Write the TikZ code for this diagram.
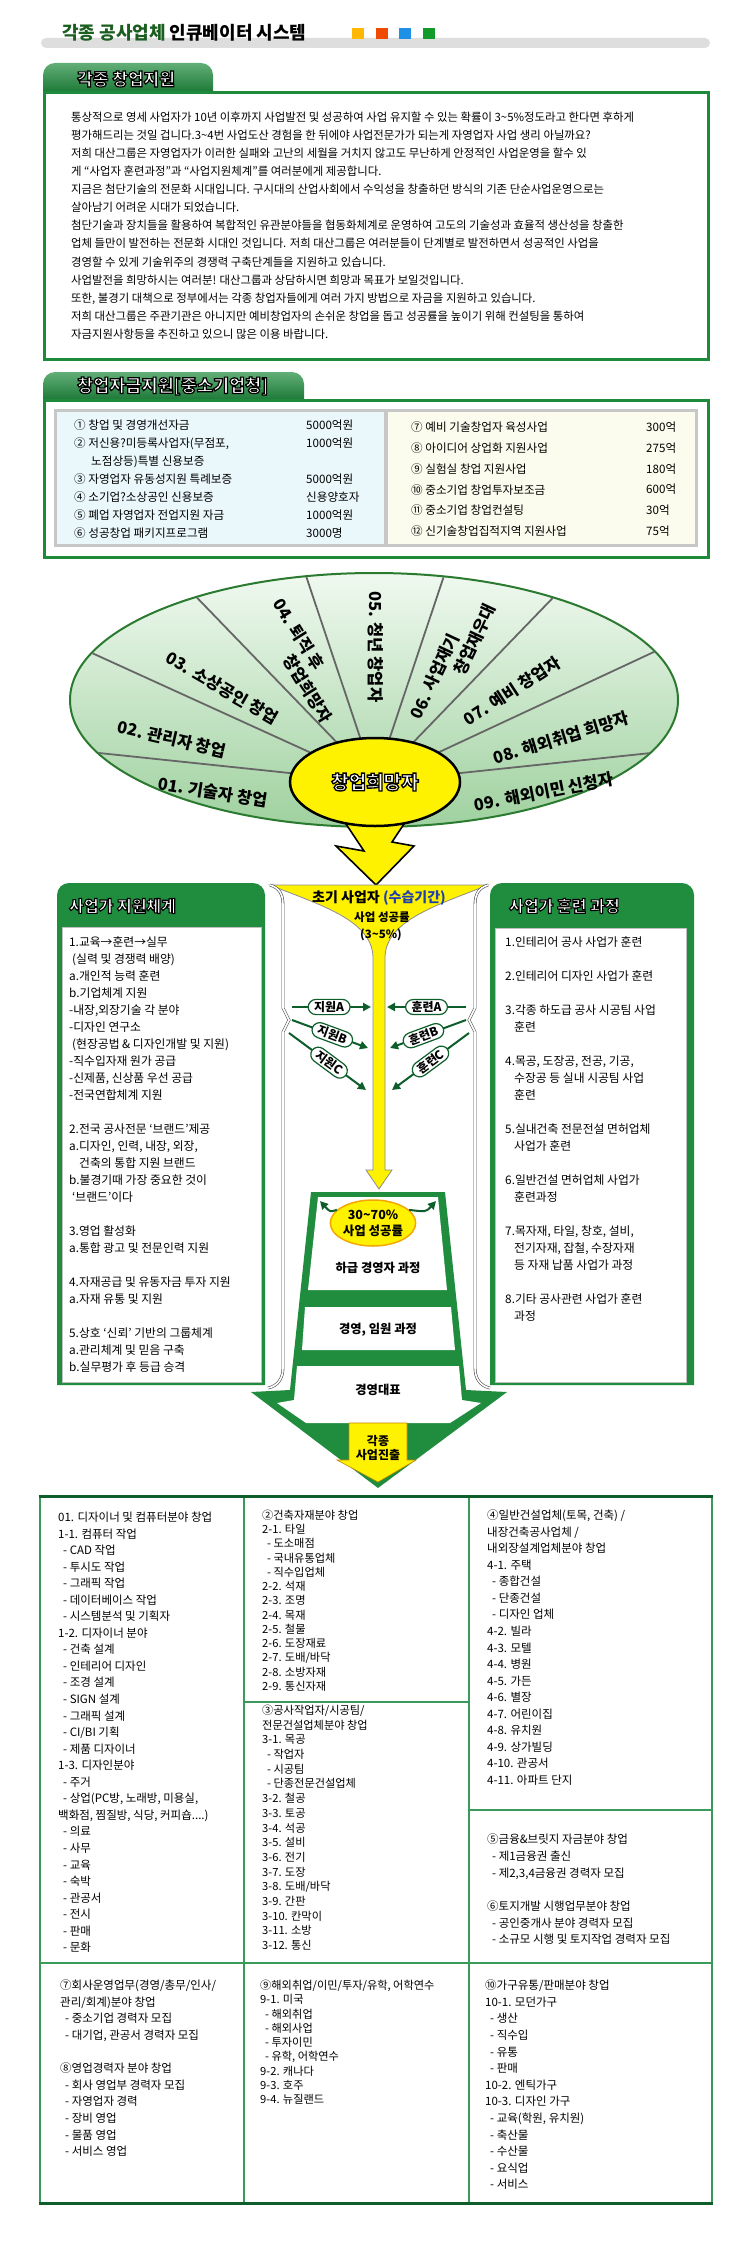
\documentclass[tikz,border=0pt]{standalone}
\usepackage{fontspec}
\setmainfont{Noto Sans CJK KR}
\newfontfamily\outlinefont{Noto Sans CJK KR}[FakeBold=7,BoldFeatures={FakeBold=7}]
\usetikzlibrary{shapes.geometric,arrows.meta,positioning}

\definecolor{titleGreen}{HTML}{1B5E20}
\definecolor{barGray}{HTML}{DEDEDE}
\definecolor{sqYellow}{HTML}{FFB700}
\definecolor{sqRed}{HTML}{F04A00}
\definecolor{sqBlue}{HTML}{1E90E6}
\definecolor{sqGreen}{HTML}{129A2A}
\definecolor{tabGreen}{HTML}{1F8C3E}
\definecolor{boxGreen}{HTML}{1E8A3C}
\definecolor{darkGreen}{HTML}{0D5E2A}
\definecolor{gridGreen}{HTML}{3A9A5A}
\definecolor{tableCyan}{HTML}{EAF8FB}
\definecolor{tableCream}{HTML}{FCFCEE}
\definecolor{fanTop}{HTML}{F0F9F0}
\definecolor{fanBottom}{HTML}{9FD19F}
\definecolor{fanEdge}{HTML}{2A7A30}
\definecolor{hopeYellow}{HTML}{FFF200}
\definecolor{stageBlue}{HTML}{1F3FB0}
\definecolor{rateOrange}{HTML}{F2A800}

% white letters with a black rim
\newcommand\outlined[1]{{\outlinefont\bfseries\color{white}\special{pdf:literal direct 0 G}#1}}
\newcommand\gridsub{\hspace*{5pt}-\ }

\begin{document}
\begin{tikzpicture}[x=1pt,y=-1pt,
    tab/.style={top color=tabGreen!70!white, bottom color=tabGreen!85!black},
    frame/.style={draw=boxGreen, line width=3pt},
    para/.style={anchor=north west, inner sep=0pt, align=left},
    fanlabel/.style={font=\bfseries\fontsize{16.5}{21}\selectfont, inner sep=0pt, align=left},
    spoke/.style={draw=black!60, line width=1.8pt},
    pill/.style={draw=darkGreen, line width=1.2pt, fill=white, rounded corners=8pt, inner xsep=6pt, inner ysep=2pt, font=\bfseries\fontsize{12}{13}\selectfont, sloped},
    flow/.style={draw=darkGreen, line width=2pt, -{Triangle[length=8pt,width=8pt]}},
    brace/.style={draw=black!70, double=white, double distance=1.6pt, line width=0.6pt},
    stairtext/.style={font=\bfseries\fontsize{12.3}{14}\selectfont},
    cell/.style={anchor=north west, inner sep=0pt, align=left, font=\fontsize{11.5}{16.55}\selectfont}
]
\useasboundingbox (0,0) rectangle (750,2242);
\fill[white] (0,0) rectangle (750,2242);

% title bar
\fill[barGray, rounded corners=5pt] (41,38) rectangle (710,48);
\node[anchor=west, inner sep=0pt, font=\bfseries\fontsize{18}{20}\selectfont] (title) at (62,33) {{\color{titleGreen}각종 공사업체} 인큐베이터 시스템};
\fill[sqYellow] (352,28) rectangle (364,39);
\fill[sqRed] (376,28) rectangle (388,39);
\fill[sqBlue] (399,28) rectangle (411,39);
\fill[sqGreen] (423,28) rectangle (435,39);

% 각종 창업지원
\shade[tab] (43,93) [rounded corners=12pt] -- (43,63) -- (213,63) [sharp corners] -- (213,93) -- cycle;
\draw[frame] (44.5,92.5) rectangle (708.5,359.5);
\node[anchor=west, inner sep=0pt, font=\fontsize{17}{19}\selectfont] (tabSupport) at (77,79) {\outlined{각종 창업지원}};
\node[para, font=\fontsize{11.4}{18.08}\selectfont] (intro) at (71,111.7) {통상적으로 영세 사업자가 10년 이후까지 사업발전 및 성공하여 사업 유지할 수 있는 확률이 3\textasciitilde5\%정도라고 한다면 후하게\\
평가해드리는 것일 겁니다.3\textasciitilde4번 사업도산 경험을 한 뒤에야 사업전문가가 되는게 자영업자 사업 생리 아닐까요?\\
저희 대산그룹은 자영업자가 이러한 실패와 고난의 세월을 거치지 않고도 무난하게 안정적인 사업운영을 할수 있\\
게 “사업자 훈련과정”과 “사업지원체계”를 여러분에게 제공합니다.\\
지금은 첨단기술의 전문화 시대입니다. 구시대의 산업사회에서 수익성을 창출하던 방식의 기존 단순사업운영으로는\\
살아남기 어려운 시대가 되었습니다.\\
첨단기술과 장치들을 활용하여 복합적인 유관분야들을 협동화체계로 운영하여 고도의 기술성과 효율적 생산성을 창출한\\
업체 들만이 발전하는 전문화 시대인 것입니다. 저희 대산그룹은 여러분들이 단계별로 발전하면서 성공적인 사업을\\
경영할 수 있게 기술위주의 경쟁력 구축단계들을 지원하고 있습니다.\\
사업발전을 희망하시는 여러분! 대산그룹과 상담하시면 희망과 목표가 보일것입니다.\\
또한, 불경기 대책으로 정부에서는 각종 창업자들에게 여러 가지 방법으로 자금을 지원하고 있습니다.\\
저희 대산그룹은 주관기관은 아니지만 예비창업자의 손쉬운 창업을 돕고 성공률을 높이기 위해 컨설팅을 통하여\\
자금지원사항등을 추진하고 있으니 많은 이용 바랍니다.};

% 창업자금지원
\shade[tab] (43,401) [rounded corners=12pt] -- (43,372) -- (304,372) [sharp corners] -- (304,401) -- cycle;
\draw[frame] (44.5,400.5) rectangle (708.5,557);
\node[anchor=west, inner sep=0pt, font=\fontsize{17.5}{19}\selectfont] (tabFund) at (77,386) {\outlined{창업자금지원[중소기업청]}};
\fill[tableCyan] (55,410) rectangle (386,545);
\fill[tableCream] (386,410) rectangle (696,545);
\draw[black!22, line width=3pt] (55,410) rectangle (696,545);
\draw[black!22, line width=4pt] (386,410) -- (386,545);
\node[para, font=\fontsize{11.6}{18}\selectfont] (fundLeft) at (74,419.7) {① 창업 및 경영개선자금\\
② 저신용?미등록사업자(무점포,\\
\hspace*{17pt}노점상등)특별 신용보증\\
③ 자영업자 유동성지원 특례보증\\
④ 소기업?소상공인 신용보증\\
⑤ 폐업 자영업자 전업지원 자금\\
⑥ 성공창업 패키지프로그램};
\node[para, font=\fontsize{11.6}{18}\selectfont] (fundLeftSum) at (306,419.7) {5000억원\\1000억원\\[18pt]5000억원\\신용양호자\\1000억원\\3000명};
\node[para, font=\fontsize{11.6}{20.8}\selectfont] (fundRight) at (411,421.7) {⑦ 예비 기술창업자 육성사업\\
⑧ 아이디어 상업화 지원사업\\
⑨ 실험실 창업 지원사업\\
⑩ 중소기업 창업투자보조금\\
⑪ 중소기업 창업컨설팅\\
⑫ 신기술창업집적지역 지원사업};
\node[para, font=\fontsize{11.6}{20.8}\selectfont] (fundRightSum) at (646,421.7) {300억\\275억\\180억\\600억\\30억\\75억};

% fan of founder groups
\coordinate (hub) at (375,782);
\shadedraw[top color=fanTop, bottom color=fanBottom, draw=fanEdge, line width=2pt] (374,700) ellipse [x radius=304, y radius=127];
\begin{scope}
  \clip (374,700) ellipse [x radius=303, y radius=126];
  \foreach \a in {174,155.5,134,108.5,71.5,46,25,6}
    \draw[spoke] (hub) -- ++(-\a:420);
\end{scope}
\node[fanlabel, rotate=-9] (sec01) at (213,792) {01. 기술자 창업};
\node[fanlabel, rotate=-13] (sec02) at (172,739) {02. 관리자 창업};
\node[fanlabel, rotate=-30] (sec03) at (222,688) {03. 소상공인 창업};
\node[fanlabel, rotate=-58] (sec04) at (302.5,660.5) {04. 퇴직 후\\\hspace*{53pt}창업희망자};
\node[fanlabel, rotate=-90] (sec05) at (376,647) {05. 청년 창업자};
\node[fanlabel, rotate=65] (sec06) at (453,661.5) {06. 사업재기\\\hspace*{58pt}창업재우대};
\node[fanlabel, rotate=33] (sec07) at (512,691) {07. 예비 창업자};
\node[fanlabel, rotate=17] (sec08) at (561,738) {08. 해외취업 희망자};
\node[fanlabel, rotate=11] (sec09) at (544,792) {09. 해외이민 신청자};

% lightning arrow down
\draw[fill=hopeYellow, line width=1.6pt, line join=miter] (340,815) -- (364,851) -- (336,846) -- (376,885) -- (414,846) -- (392,842) -- (410,815) -- cycle;
\node[ellipse, draw=black, line width=2.5pt, fill=hopeYellow, minimum width=170pt, minimum height=88pt, inner sep=0pt, font=\fontsize{19}{21}\selectfont] (hope) at (hub) {\outlined{창업희망자}};

% 사업가 지원체계
\fill[tabGreen] (57,1385) [rounded corners=12pt] -- (57,883) -- (265,883) [sharp corners] -- (265,1385) -- cycle;
\draw[fill=white, draw=black!25] (62,927) rectangle (261,1382);
\node[anchor=west, inner sep=0pt, font=\fontsize{16}{18}\selectfont] (supportHead) at (69,906) {\outlined{사업가 지원체계}};
\node[para, font=\fontsize{11.8}{17}\selectfont] (supportList) at (69,936.6) {1.교육→훈련→실무\\
\hspace*{3pt}(실력 및 경쟁력 배양)\\
a.개인적 능력 훈련\\
b.기업체계 지원\\
-내장,외장기술 각 분야\\
-디자인 연구소\\
\hspace*{3pt}(현장공법 \& 디자인개발 및 지원)\\
-직수입자재 원가 공급\\
-신제품, 신상품 우선 공급\\
-전국연합체계 지원\\[17pt]
2.전국 공사전문 ‘브랜드’제공\\
a.디자인, 인력, 내장, 외장,\\
\hspace*{10pt}건축의 통합 지원 브랜드\\
b.불경기때 가장 중요한 것이\\
\hspace*{3pt}‘브랜드’이다\\[17pt]
3.영업 활성화\\
a.통합 광고 및 전문인력 지원\\[17pt]
4.자재공급 및 유동자금 투자 지원\\
a.자재 유통 및 지원\\[17pt]
5.상호 ‘신뢰’ 기반의 그룹체계\\
a.관리체계 및 믿음 구축\\
b.실무평가 후 등급 승격};

% 사업가 훈련 과정
\fill[tabGreen] (490,1385) [rounded corners=12pt] -- (490,883) -- (694,883) [sharp corners] -- (694,1385) -- cycle;
\draw[fill=white, draw=black!25] (495,928) rectangle (686,1382);
\node[anchor=west, inner sep=0pt, font=\fontsize{16}{18}\selectfont] (trainHead) at (509,906) {\outlined{사업가 훈련 과정}};
\node[para, font=\fontsize{11.8}{17}\selectfont] (trainList) at (505,936.6) {1.인테리어 공사 사업가 훈련\\[17pt]
2.인테리어 디자인 사업가 훈련\\[17pt]
3.각종 하도급 공사 시공팀 사업\\
\hspace*{9pt}훈련\\[17pt]
4.목공, 도장공, 전공, 기공,\\
\hspace*{9pt}수장공 등 실내 시공팀 사업\\
\hspace*{9pt}훈련\\[17pt]
5.실내건축 전문전설 면허업체\\
\hspace*{9pt}사업가 훈련\\[17pt]
6.일반건설 면허업체 사업가\\
\hspace*{9pt}훈련과정\\[17pt]
7.목자재, 타일, 창호, 설비,\\
\hspace*{9pt}전기자재, 잡철, 수장자재\\
\hspace*{9pt}등 자재 납품 사업가 과정\\[17pt]
8.기타 공사관련 사업가 훈련\\
\hspace*{9pt}과정};

% funnel of early founders
\draw[fill=hopeYellow, draw=black!45, line width=0.8pt] (270,885) .. controls (320,905) and (372,920) .. (373,957) -- (373,1170) -- (366,1170) -- (379,1189) -- (392,1170) -- (385,1170) -- (385,957) .. controls (386,920) and (438,905) .. (488,885) -- cycle;
\node[font=\bfseries\fontsize{14}{16}\selectfont] (earlyStage) at (379,898) {초기 사업자 \textcolor{stageBlue}{(수습기간)}};
\node[font=\bfseries\fontsize{11.5}{13}\selectfont] (earlyRate) at (382,917) {사업 성공률};
\node[font=\bfseries\fontsize{11.5}{13}\selectfont] (earlyPct) at (381,935) {(3\textasciitilde5\%)};

% side braces
\draw[brace] (270,885) .. controls (280,888) and (283,895) .. (283,905) -- (283,1008) -- (289,1020) -- (283,1032) -- (283,1368) .. controls (283,1378) and (278,1386) .. (268,1388);
\draw[brace] (488,885) .. controls (478,888) and (475,895) .. (475,905) -- (475,1008) -- (469,1020) -- (475,1032) -- (475,1368) .. controls (475,1378) and (480,1386) .. (490,1388);

% support and training arrows
\coordinate (jA0) at (292,1007); \coordinate (jA1) at (371,1007);
\coordinate (jB0) at (292,1020); \coordinate (jB1) at (368,1048);
\coordinate (jC0) at (289,1033); \coordinate (jC1) at (366,1090);
\coordinate (hA0) at (466,1007); \coordinate (hA1) at (387,1007);
\coordinate (hB0) at (466,1020); \coordinate (hB1) at (390,1048);
\coordinate (hC0) at (469,1033); \coordinate (hC1) at (392,1090);
\draw[flow] (jA0) -- (jA1) node[pill, pos=0.47] (jiwonA) {지원A};
\draw[flow] (jB0) -- (jB1) node[pill, pos=0.53] (jiwonB) {지원B};
\draw[flow] (jC0) -- (jC1) node[pill, pos=0.52] (jiwonC) {지원C};
\draw[flow] (hA0) -- (hA1) node[pill, pos=0.5] (hunA) {훈련A};
\draw[flow] (hB0) -- (hB1) node[pill, pos=0.56] (hunB) {훈련B};
\draw[flow] (hC0) -- (hC1) node[pill, pos=0.5] (hunC) {훈련C};

% management steps arrow
\fill[tabGreen] (311,1192) -- (445,1192) -- (466,1390) -- (507,1392) -- (378,1488) -- (251,1392) -- (290,1390) -- cycle;
\fill[white] (318,1197) -- (438,1197) -- (447,1290) -- (308,1290) -- cycle;
\fill[white] (305,1307) -- (451,1307) -- (455,1350) -- (302,1350) -- cycle;
\fill[white] (297,1366) -- (459,1366) -- (462,1400) -- (481,1403) -- (450,1423) -- (306,1423) -- (277,1403) -- (294,1400) -- cycle;
\draw[fill=hopeYellow, draw=rateOrange!80!black, line width=0.6pt] (349,1423) -- (407,1423) -- (407,1460) -- (416,1460) -- (378,1482) -- (337,1460) -- (349,1460) -- cycle;
\node[font=\bfseries\fontsize{12}{13.5}\selectfont, align=center] (advance) at (378,1448) {각종\\사업진출};
\node[ellipse, draw=rateOrange, line width=1.5pt, fill=hopeYellow, minimum width=76pt, minimum height=46pt, inner sep=0pt, align=center, font=\bfseries\fontsize{12.5}{16}\selectfont] (succ) at (373,1223) {30\textasciitilde70\%\\사업 성공률};
\coordinate (upL) at (320,1201);
\coordinate (upR) at (436,1201);
\draw[flow] (succ.160) .. controls (330,1212) .. (upL);
\draw[flow] (succ.20) .. controls (426,1212) .. (upR);
\node[stairtext] (lowerMgr) at (378,1268) {하급 경영자 과정};
\node[stairtext] (execMgr) at (378,1330) {경영, 임원 과정};
\node[stairtext] (ceoMgr) at (378,1390) {경영대표};

% fields table
\draw[gridGreen, line width=1.3pt] (40,1496) rectangle (712,2203);
\draw[gridGreen, line width=1.3pt] (244,1496) -- (244,2203) (469,1496) -- (469,2203) (40,1963) -- (712,1963) (244,1702) -- (469,1702) (469,1810) -- (712,1810);
\draw[darkGreen, line width=3pt] (38.7,1496) -- (713.3,1496) (38.7,2203) -- (713.3,2203);

\node[cell] (cellDesign) at (58,1511.7) {01. 디자이너 및 컴퓨터분야 창업\\
1-1. 컴퓨터 작업\\
\gridsub CAD 작업\\
\gridsub 투시도 작업\\
\gridsub 그래픽 작업\\
\gridsub 데이터베이스 작업\\
\gridsub 시스템분석 및 기획자\\
1-2. 디자이너 분야\\
\gridsub 건축 설계\\
\gridsub 인테리어 디자인\\
\gridsub 조경 설계\\
\gridsub SIGN 설계\\
\gridsub 그래픽 설계\\
\gridsub CI/BI 기획\\
\gridsub 제품 디자이너\\
1-3. 디자인분야\\
\gridsub 주거\\
\gridsub 상업(PC방, 노래방, 미용실,\\
백화점, 찜질방, 식당, 커피숍....)\\
\gridsub 의료\\
\gridsub 사무\\
\gridsub 교육\\
\gridsub 숙박\\
\gridsub 관공서\\
\gridsub 전시\\
\gridsub 판매\\
\gridsub 문화};

\node[cell, font=\fontsize{11.2}{14.25}\selectfont] (cellMaterial) at (262,1509.8) {②건축자재분야 창업\\
2-1. 타일\\
\gridsub 도소매점\\
\gridsub 국내유통업체\\
\gridsub 직수입업체\\
2-2. 석재\\
2-3. 조명\\
2-4. 목재\\
2-5. 철물\\
2-6. 도장재료\\
2-7. 도배/바닥\\
2-8. 소방자재\\
2-9. 통신자재};

\node[cell, font=\fontsize{11.2}{14.7}\selectfont] (cellCrew) at (262,1704.8) {③공사작업자/시공팀/\\
전문건설업체분야 창업\\
3-1. 목공\\
\gridsub 작업자\\
\gridsub 시공팀\\
\gridsub 단종전문건설업체\\
3-2. 철공\\
3-3. 토공\\
3-4. 석공\\
3-5. 설비\\
3-6. 전기\\
3-7. 도장\\
3-8. 도배/바닥\\
3-9. 간판\\
3-10. 칸막이\\
3-11. 소방\\
3-12. 통신};

\node[cell] (cellBuilder) at (487,1509.7) {④일반건설업체(토목, 건축) /\\
내장건축공사업체 /\\
내외장설계업체분야 창업\\
4-1. 주택\\
\gridsub 종합건설\\
\gridsub 단종건설\\
\gridsub 디자인 업체\\
4-2. 빌라\\
4-3. 모텔\\
4-4. 병원\\
4-5. 가든\\
4-6. 별장\\
4-7. 어린이집\\
4-8. 유치원\\
4-9. 상가빌딩\\
4-10. 관공서\\
4-11. 아파트 단지};

\node[cell, font=\fontsize{11.5}{16.7}\selectfont] (cellFinance) at (487,1833.7) {⑤금융\&브릿지 자금분야 창업\\
\gridsub 제1금융권 출신\\
\gridsub 제2,3,4금융권 경력자 모집\\[16.7pt]
⑥토지개발 시행업무분야 창업\\
\gridsub 공인중개사 분야 경력자 모집\\
\gridsub 소규모 시행 및 토지작업 경력자 모집};

\node[cell, font=\fontsize{11.5}{16.6}\selectfont] (cellOffice) at (60,1979.7) {⑦회사운영업무(경영/총무/인사/\\
관리/회계)분야 창업\\
\gridsub 중소기업 경력자 모집\\
\gridsub 대기업, 관공서 경력자 모집\\[16.6pt]
⑧영업경력자 분야 창업\\
\gridsub 회사 영업부 경력자 모집\\
\gridsub 자영업자 경력\\
\gridsub 장비 영업\\
\gridsub 물품 영업\\
\gridsub 서비스 영업};

\node[cell, font=\fontsize{11.2}{14.25}\selectfont] (cellAbroad) at (260,1979.8) {⑨해외취업/이민/투자/유학, 어학연수\\
9-1. 미국\\
\gridsub 해외취업\\
\gridsub 해외사업\\
\gridsub 투자이민\\
\gridsub 유학, 어학연수\\
9-2. 캐나다\\
9-3. 호주\\
9-4. 뉴질랜드};

\node[cell, font=\fontsize{11.5}{16.6}\selectfont] (cellFurniture) at (485,1979.7) {⑩가구유통/판매분야 창업\\
10-1. 모던가구\\
\gridsub 생산\\
\gridsub 직수입\\
\gridsub 유통\\
\gridsub 판매\\
10-2. 엔틱가구\\
10-3. 디자인 가구\\
\gridsub 교육(학원, 유치원)\\
\gridsub 축산물\\
\gridsub 수산물\\
\gridsub 요식업\\
\gridsub 서비스};
\end{tikzpicture}
\end{document}
